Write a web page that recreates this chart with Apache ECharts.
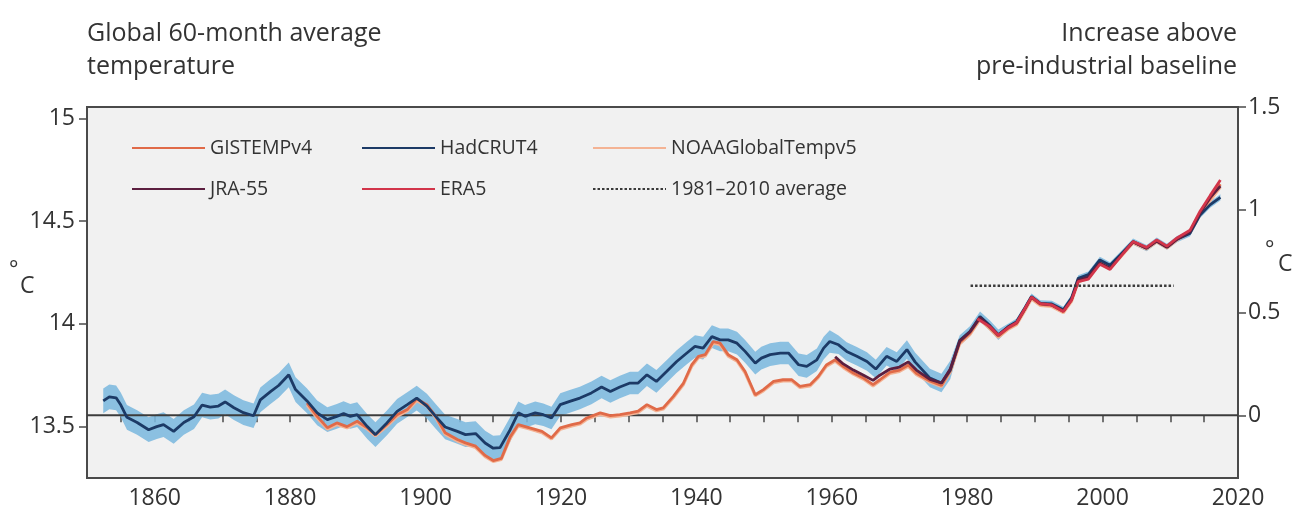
<!DOCTYPE html>
<html>
<head>
<meta charset="utf-8">
<title>Global 60-month average temperature</title>
<script src="https://cdn.jsdelivr.net/npm/echarts@6/dist/echarts.min.js"></script>
<style>
  html, body { margin: 0; padding: 0; background: #ffffff; }
  #chart { width: 1297px; height: 519px; }
</style>
</head>
<body>
<div id="chart"></div>
<script>
// 60-month running means, absolute temperature in °C: [year, value]
// HadCRUT4 also carries the half-width of its uncertainty band: [year, value, spread]
const hadcrut4 = [
  [1852.4,13.625,0.06],[1853.3,13.645,0.06],[1854.3,13.640,0.06],[1855.0,13.605,0.06],[1855.9,13.545,0.06],
  [1857.4,13.520,0.06],[1859.1,13.485,0.06],[1860.3,13.500,0.06],[1861.3,13.510,0.06],[1862.8,13.477,0.06],
  [1864.3,13.520,0.06],[1865.8,13.548,0.06],[1867.0,13.605,0.06],[1868.2,13.595,0.06],[1869.4,13.600,0.06],
  [1870.4,13.620,0.06],[1871.7,13.592,0.06],[1873.1,13.568,0.06],[1874.6,13.553,0.06],[1875.6,13.630,0.06],
  [1877.1,13.670,0.06],[1878.3,13.700,0.06],[1879.8,13.752,0.06],[1880.8,13.680,0.06],[1882.5,13.625,0.06],
  [1884.0,13.567,0.06],[1885.5,13.534,0.06],[1886.9,13.550,0.06],[1887.9,13.563,0.06],[1888.9,13.550,0.06],
  [1889.9,13.558,0.06],[1891.4,13.500,0.06],[1892.6,13.461,0.06],[1894.3,13.518,0.06],[1895.8,13.574,0.06],
  [1897.3,13.607,0.06],[1898.7,13.639,0.06],[1900.2,13.600,0.06],[1901.5,13.550,0.06],[1902.9,13.498,0.06],
  [1904.7,13.477,0.06],[1905.9,13.461,0.06],[1907.4,13.466,0.06],[1908.8,13.420,0.06],[1910.0,13.395,0.06],
  [1911.0,13.398,0.06],[1912.5,13.485,0.06],[1913.7,13.567,0.055],[1914.7,13.550,0.055],[1916.2,13.567,0.055],
  [1917.4,13.558,0.055],[1918.6,13.542,0.055],[1919.9,13.607,0.055],[1921.3,13.623,0.055],[1922.8,13.639,0.055],
  [1924.5,13.664,0.055],[1926.0,13.693,0.055],[1927.3,13.671,0.055],[1928.7,13.693,0.055],[1930.2,13.712,0.055],
  [1931.4,13.712,0.055],[1932.7,13.752,0.055],[1934.1,13.720,0.055],[1935.6,13.768,0.055],[1937.1,13.817,0.055],
  [1938.6,13.858,0.055],[1939.8,13.890,0.055],[1941.0,13.882,0.055],[1942.3,13.938,0.055],[1943.5,13.922,0.055],
  [1944.7,13.922,0.055],[1946.0,13.906,0.055],[1947.2,13.866,0.055],[1948.7,13.809,0.055],[1949.6,13.833,0.055],
  [1950.9,13.850,0.055],[1952.4,13.858,0.055],[1953.6,13.858,0.055],[1955.1,13.801,0.055],[1956.3,13.793,0.055],
  [1957.8,13.825,0.055],[1958.8,13.882,0.055],[1959.7,13.914,0.055],[1961.0,13.898,0.045],[1962.2,13.866,0.045],
  [1963.7,13.842,0.045],[1965.2,13.817,0.045],[1966.5,13.780,0.045],[1968.1,13.842,0.045],[1969.6,13.817,0.045],
  [1971.1,13.875,0.045],[1972.3,13.815,0.045],[1974.5,13.736,0.045],[1976.2,13.712,0.045],[1977.5,13.775,0.045],
  [1978.9,13.920,0.025],[1980.4,13.963,0.025],[1981.9,14.035,0.025],[1983.4,13.990,0.025],[1984.6,13.947,0.025],
  [1986.1,13.987,0.015],[1987.3,14.011,0.015],[1988.5,14.076,0.015],[1989.5,14.133,0.015],[1990.8,14.100,0.015],
  [1992.5,14.097,0.015],[1994.2,14.068,0.015],[1995.4,14.125,0.015],[1996.4,14.222,0.015],[1997.9,14.240,0.015],
  [1999.6,14.311,0.015],[2001.1,14.285,0.015],[2002.6,14.335,0.015],[2004.5,14.400,0.015],[2006.5,14.368,0.015],
  [2008.0,14.405,0.015],[2009.5,14.375,0.015],[2011.0,14.412,0.015],[2012.9,14.440,0.015],[2014.4,14.530,0.015],
  [2015.9,14.580,0.015],[2017.4,14.615,0.015]
];

const gistempv4 = [
  [1882.5,13.615],[1884.0,13.550],[1885.5,13.495],[1886.9,13.518],[1888.4,13.500],[1889.9,13.526],
  [1891.4,13.494],[1892.6,13.461],[1894.3,13.510],[1895.8,13.558],[1897.3,13.583],[1898.7,13.635],
  [1900.2,13.607],[1901.5,13.550],[1902.9,13.470],[1904.7,13.437],[1905.9,13.421],[1907.4,13.405],
  [1908.8,13.360],[1910.0,13.335],[1911.2,13.345],[1912.5,13.450],[1913.7,13.510],[1915.4,13.494],
  [1917.2,13.477],[1918.6,13.445],[1919.9,13.494],[1921.6,13.510],[1922.8,13.518],[1923.8,13.542],
  [1925.8,13.567],[1927.3,13.553],[1928.7,13.558],[1930.2,13.567],[1931.4,13.575],[1932.7,13.607],
  [1934.1,13.583],[1935.1,13.591],[1936.6,13.647],[1938.1,13.712],[1939.3,13.800],[1940.3,13.842],
  [1941.3,13.850],[1942.5,13.914],[1943.5,13.906],[1944.7,13.850],[1946.0,13.825],[1947.2,13.768],
  [1948.7,13.655],[1949.9,13.680],[1951.4,13.720],[1952.8,13.728],[1954.1,13.728],[1955.3,13.696],
  [1956.8,13.704],[1958.0,13.744],[1959.2,13.800],[1960.5,13.825],[1961.7,13.793],[1963.2,13.761],
  [1964.7,13.736],[1966.1,13.704],[1967.1,13.728],[1968.6,13.765],[1970.0,13.775],[1971.3,13.800],
  [1972.5,13.760],[1974.5,13.722],[1976.2,13.700],[1977.5,13.772],[1978.9,13.910],[1980.4,13.955],
  [1981.9,14.028],[1983.4,13.980],[1984.6,13.940],[1986.1,13.980],[1987.3,14.002],[1988.5,14.070],
  [1989.5,14.128],[1990.8,14.095],[1992.5,14.090],[1994.2,14.060],[1995.4,14.115],[1996.4,14.210],
  [1997.9,14.230],[1999.6,14.300],[2001.1,14.275],[2002.6,14.330],[2004.5,14.400],[2006.5,14.370],
  [2008.0,14.405],[2009.5,14.375],[2011.0,14.415],[2012.9,14.450],[2014.4,14.540],[2015.9,14.610],
  [2017.4,14.680]
];

const noaaGlobalTempv5 = [
  [1882.5,13.605],[1884.0,13.542],[1885.5,13.488],[1886.9,13.510],[1888.4,13.494],[1889.9,13.518],
  [1891.4,13.488],[1892.6,13.455],[1894.3,13.502],[1895.8,13.550],[1897.3,13.576],[1898.7,13.626],
  [1900.2,13.600],[1901.5,13.544],[1902.9,13.463],[1904.7,13.430],[1905.9,13.414],[1907.4,13.398],
  [1908.8,13.354],[1910.0,13.330],[1911.2,13.340],[1912.5,13.443],[1913.7,13.503],[1915.4,13.488],
  [1917.2,13.470],[1918.6,13.440],[1919.9,13.487],[1921.6,13.503],[1922.8,13.512],[1923.8,13.535],
  [1925.8,13.560],[1927.3,13.547],[1928.7,13.552],[1930.2,13.560],[1931.4,13.568],[1932.7,13.600],
  [1934.1,13.577],[1935.1,13.585],[1936.6,13.640],[1938.1,13.705],[1939.3,13.792],[1940.3,13.835],
  [1941.3,13.843],[1942.5,13.906],[1943.5,13.898],[1944.7,13.843],[1946.0,13.818],[1947.2,13.760],
  [1948.7,13.650],[1949.9,13.674],[1951.4,13.713],[1952.8,13.722],[1954.1,13.722],[1955.3,13.690],
  [1956.8,13.698],[1958.0,13.738],[1959.2,13.793],[1960.5,13.818],[1961.7,13.787],[1963.2,13.755],
  [1964.7,13.730],[1966.1,13.698],[1967.1,13.722],[1968.6,13.758],[1970.0,13.768],[1971.3,13.793],
  [1972.5,13.753],[1974.5,13.716],[1976.2,13.695],[1977.5,13.766],[1978.9,13.903],[1980.4,13.948],
  [1981.9,14.020],[1983.4,13.974],[1984.6,13.934],[1986.1,13.974],[1987.3,13.996],[1988.5,14.063],
  [1989.5,14.121],[1990.8,14.089],[1992.5,14.084],[1994.2,14.054],[1995.4,14.108],[1996.4,14.203],
  [1997.9,14.224],[1999.6,14.293],[2001.1,14.269],[2002.6,14.323],[2004.5,14.393],[2006.5,14.364],
  [2008.0,14.398],[2009.5,14.369],[2011.0,14.408],[2012.9,14.443],[2014.4,14.532],[2015.9,14.600],
  [2017.4,14.665]
];

const jra55 = [
  [1960.5,13.840],[1961.7,13.805],[1963.2,13.775],[1964.7,13.750],[1966.1,13.725],[1967.1,13.750],
  [1968.6,13.780],[1970.0,13.790],[1971.3,13.815],[1972.5,13.775],[1974.5,13.730],[1976.2,13.712],
  [1977.5,13.780],[1978.9,13.915],[1980.4,13.960],[1981.9,14.030],[1983.4,13.985],[1984.6,13.945],
  [1986.1,13.985],[1987.3,14.005],[1988.5,14.072],[1989.5,14.130],[1990.8,14.098],[1992.5,14.092],
  [1994.2,14.062],[1995.4,14.118],[1996.4,14.212],[1997.9,14.228],[1999.6,14.295],[2001.1,14.270],
  [2002.6,14.328],[2004.5,14.398],[2006.5,14.368],[2008.0,14.402],[2009.5,14.372],[2011.0,14.412],
  [2012.9,14.448],[2014.4,14.540],[2015.9,14.615],[2017.4,14.670]
];

const era5 = [
  [1981.5,14.025],[1983.4,13.985],[1984.6,13.945],[1986.1,13.982],[1987.3,14.005],[1988.5,14.072],
  [1989.5,14.130],[1990.8,14.098],[1992.5,14.092],[1994.2,14.060],[1995.4,14.115],[1996.4,14.205],
  [1997.9,14.218],[1999.6,14.290],[2001.1,14.265],[2002.6,14.325],[2004.5,14.400],[2006.5,14.372],
  [2008.0,14.408],[2009.5,14.378],[2011.0,14.418],[2012.9,14.455],[2014.4,14.548],[2015.9,14.625],
  [2017.4,14.700]
];

// 1981–2010 average, as an increase above the pre-industrial baseline
const average19812010 = [[1980.5, 0.63], [2010.5, 0.63]];
// pre-industrial baseline (0 on the right-hand scale)
const baseline = [[1850, 0], [2020, 0]];

// axis ranges and tick labels
const baselineAbsolute = 13.555;            // °C that corresponds to 0 on the right scale
const leftRange = [13.25, 15.055];
const rightRange = [leftRange[0] - baselineAbsolute, leftRange[1] - baselineAbsolute];
const leftTicks = [13.5, 14, 14.5, 15];
const rightTicks = [0, 0.5, 1, 1.5];
const yearRange = [1850, 2020];

// legend columns, top to bottom
const legendColumns = [
  ['GISTEMPv4', 'JRA-55'],
  ['HadCRUT4', 'ERA5'],
  ['NOAAGlobalTempv5', '1981–2010 average']
];

const FONT = 'Open Sans';
const TEXT = '#333333';
const FRAME = '#4a4a4a';

const chart = echarts.init(document.getElementById('chart'), null, { renderer: 'canvas' });

function pairs(rows) { return rows.map(r => [r[0], r[1]]); }

const legendLeft = [126, 356, 587];
const legends = legendColumns.map((names, i) => ({
  left: legendLeft[i],
  top: 133,
  orient: 'vertical',
  itemWidth: 73,
  itemHeight: 14,
  itemGap: 21,
  selectedMode: false,
  itemStyle: { opacity: 0 },
  textStyle: { fontFamily: FONT, fontSize: 19.5, color: TEXT },
  data: names
}));

function label(text, x, y, size, align) {
  return {
    type: 'text', x: x, y: y, silent: true,
    style: { text: text, fontFamily: FONT, fontSize: size, fill: TEXT, align: align || 'left', verticalAlign: 'middle' }
  };
}

chart.setOption({
  animation: false,
  backgroundColor: '#ffffff',
  legend: legends,
  grid: {
    left: 87, right: 59, top: 107, bottom: 41,
    show: true, backgroundColor: '#f1f1f1', borderColor: FRAME, borderWidth: 2
  },
  xAxis: {
    type: 'value', min: yearRange[0], max: yearRange[1], interval: 5,
    splitLine: { show: false },
    axisLine: { show: false },
    axisTick: { show: true, length: 7, lineStyle: { color: FRAME, width: 1.5 } },
    axisLabel: {
      fontFamily: FONT, fontSize: 23, color: TEXT, margin: 9,
      formatter: v => (v % 20 === 0 ? String(v) : '')
    }
  },
  yAxis: [
    {
      type: 'value', min: leftRange[0], max: leftRange[1], position: 'left',
      splitLine: { show: false },
      axisLine: { show: false },
      axisTick: { show: true, length: 8, customValues: leftTicks, lineStyle: { color: FRAME, width: 1.5 } },
      axisLabel: { fontFamily: FONT, fontSize: 23, color: TEXT, margin: 12, customValues: leftTicks }
    },
    {
      type: 'value', min: rightRange[0], max: rightRange[1], position: 'right',
      splitLine: { show: false },
      axisLine: { show: false },
      axisTick: { show: true, length: 8, customValues: rightTicks, lineStyle: { color: FRAME, width: 1.5 } },
      axisLabel: { fontFamily: FONT, fontSize: 23, color: TEXT, margin: 10, customValues: rightTicks }
    }
  ],
  graphic: [
    label('Global 60-month average', 87, 34, 25),
    label('temperature', 87, 67, 25),
    label('Increase above', 1237, 34, 25, 'right'),
    label('pre-industrial baseline', 1237, 67, 25, 'right'),
    label('°', 9, 270, 22),
    label('C', 20, 286, 23),
    label('°', 1265, 250, 22),
    label('C', 1278, 264, 23)
  ],
  series: [
    {
      // HadCRUT4 uncertainty band
      type: 'custom',
      name: 'HadCRUT4 range',
      silent: true,
      z: 1,
      data: [[hadcrut4[0][0], hadcrut4[0][1]]],
      renderItem: function (params, api) {
        const upper = hadcrut4.map(r => api.coord([r[0], r[1] + r[2]]));
        const lower = hadcrut4.slice().reverse().map(r => api.coord([r[0], r[1] - r[2]]));
        return {
          type: 'polygon',
          shape: { points: upper.concat(lower) },
          style: { fill: '#7cb8de', opacity: 0.88 }
        };
      }
    },
    {
      name: 'baseline', type: 'line', yAxisIndex: 1, data: baseline, symbol: 'none', silent: true, z: 2,
      lineStyle: { color: '#3c3c3c', width: 2 }
    },
    {
      name: 'NOAAGlobalTempv5', type: 'line', data: noaaGlobalTempv5, symbol: 'none', z: 3,
      lineStyle: { color: '#f4b394', width: 3 }, itemStyle: { color: '#f4b394' }
    },
    {
      name: 'GISTEMPv4', type: 'line', data: gistempv4, symbol: 'none', z: 4,
      lineStyle: { color: '#e06a48', width: 2.8 }, itemStyle: { color: '#e06a48' }
    },
    {
      name: 'HadCRUT4', type: 'line', data: pairs(hadcrut4), symbol: 'none', z: 5,
      lineStyle: { color: '#1c3a66', width: 2.8 }, itemStyle: { color: '#1c3a66' }
    },
    {
      name: 'JRA-55', type: 'line', data: jra55, symbol: 'none', z: 6,
      lineStyle: { color: '#5c1f40', width: 2.8 }, itemStyle: { color: '#5c1f40' }
    },
    {
      name: 'ERA5', type: 'line', data: era5, symbol: 'none', z: 7,
      lineStyle: { color: '#d2354a', width: 2.8 }, itemStyle: { color: '#d2354a' }
    },
    {
      name: '1981–2010 average', type: 'line', yAxisIndex: 1, data: average19812010, symbol: 'none', z: 8,
      lineStyle: { color: '#3a3a3a', width: 2.5, type: [2.5, 2] }, itemStyle: { color: '#3a3a3a' }
    }
  ]
});
</script>
</body>
</html>
